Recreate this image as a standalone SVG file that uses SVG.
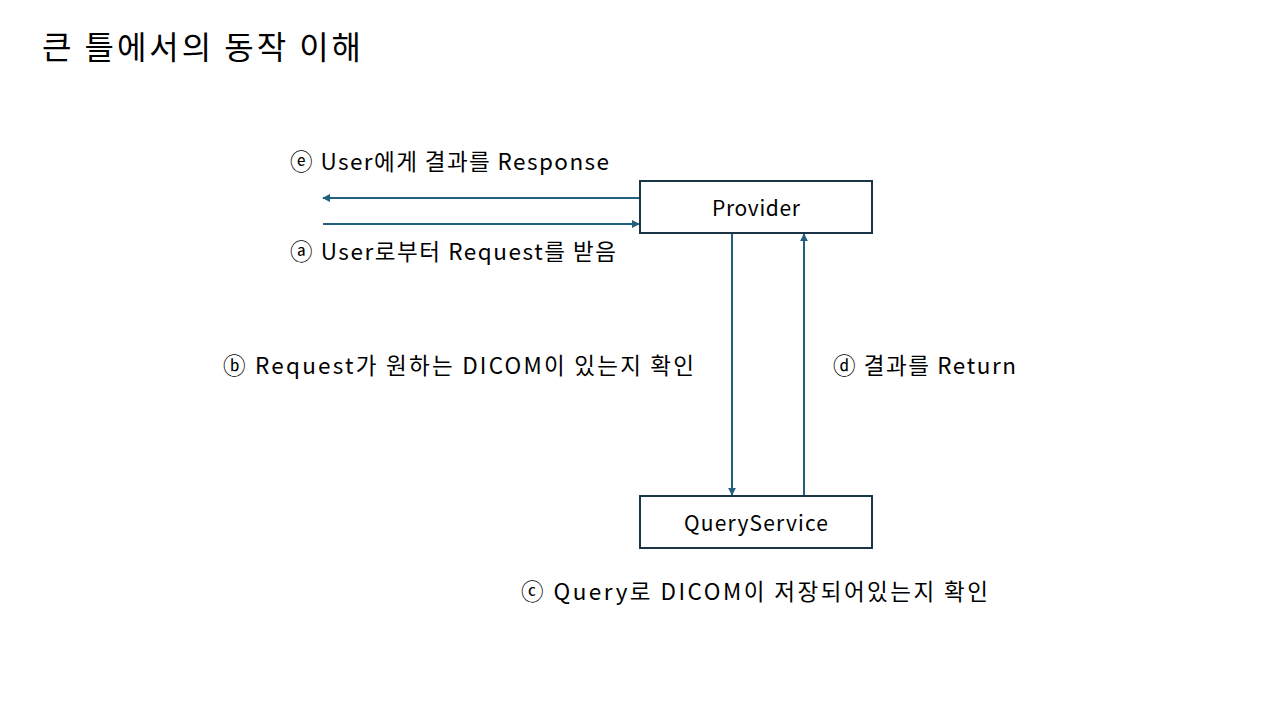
<svg xmlns="http://www.w3.org/2000/svg" width="1280" height="720" viewBox="0 0 1280 720">
<style>
text{font-family:"Noto Sans CJK KR","Noto Sans",sans-serif;fill:#000}
.t{font-size:32px}
.l{font-size:22.5px}
.n{font-size:21px}
.box{fill:#fff;stroke:#1a3646;stroke-width:2}
.c{stroke:#23607e;stroke-width:2;fill:none}
</style>
<defs>
<marker id="ah" viewBox="0 0 10 10" refX="9" refY="5" markerWidth="4" markerHeight="4" orient="auto" markerUnits="strokeWidth">
<path d="M0,0 L10,5 L0,10 z" fill="#23607e"/>
</marker>
</defs>
<rect width="1280" height="720" fill="#fff"/>
<text class="t" x="42" y="59" textLength="319">큰 틀에서의 동작 이해</text>
<g id="connectors">
<line class="c" x1="640" y1="198" x2="323" y2="198" marker-end="url(#ah)"/>
<line class="c" x1="323" y1="224" x2="639" y2="224" marker-end="url(#ah)"/>
<line class="c" x1="732" y1="233" x2="732" y2="495" marker-end="url(#ah)"/>
<line class="c" x1="804" y1="496" x2="804" y2="234" marker-end="url(#ah)"/>
</g>
<g id="provider">
<rect class="box" x="640" y="181" width="232" height="52"/>
<text class="n" x="712" y="216" textLength="88">Provider</text>
</g>
<g id="queryservice">
<rect class="box" x="640" y="496" width="232" height="52"/>
<text class="n" x="684" y="531" textLength="144">QueryService</text>
</g>
<g id="labels">
<text class="l" x="290" y="170" textLength="319">ⓔ User에게 결과를 Response</text>
<text class="l" x="290" y="260" textLength="326">ⓐ User로부터 Request를 받음</text>
<text class="l" x="223" y="374" textLength="471">ⓑ Request가 원하는 DICOM이 있는지 확인</text>
<text class="l" x="833" y="374" textLength="183">ⓓ 결과를 Return</text>
<text class="l" x="521" y="600" textLength="467">ⓒ Query로 DICOM이 저장되어있는지 확인</text>
</g>
</svg>
